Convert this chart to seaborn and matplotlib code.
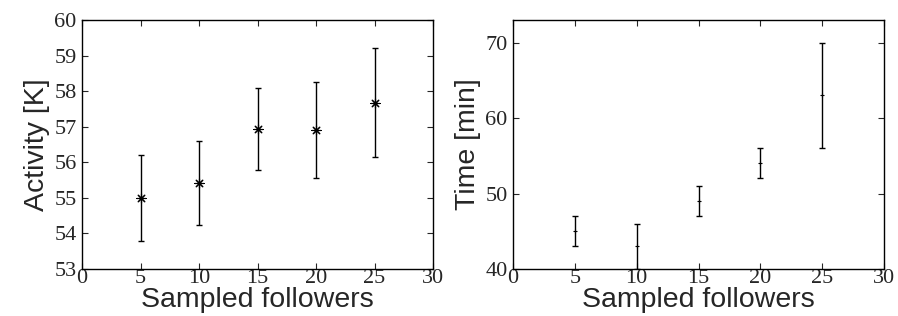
import matplotlib
matplotlib.use("Agg")
import matplotlib.pyplot as plt
import pandas as pd
import seaborn as sns

# data
followers = [5, 10, 15, 20, 25]
activity = [55.0, 55.43, 56.93, 56.9, 57.68]
activity_err = [1.2, 1.18, 1.15, 1.35, 1.53]
time_min = [45, 43, 49, 54, 63]
time_lo = [43, 40, 47, 52, 56]
time_hi = [47, 46, 51, 56, 70]

sns.set_style("ticks")
plt.rcParams['font.family'] = ['Liberation Serif', 'DejaVu Serif']

df_act = pd.DataFrame({'followers': followers, 'activity': activity, 'err': activity_err})
df_time = pd.DataFrame({'followers': followers, 'time': time_min, 'lo': time_lo, 'hi': time_hi})

fig = plt.figure(figsize=(8.98, 3.16), dpi=100)
ax1 = fig.add_axes([82 / 898, 1 - 269 / 316, 351 / 898, 249 / 316])
ax2 = fig.add_axes([513 / 898, 1 - 269 / 316, 371 / 898, 249 / 316])

label_font = dict(family='Liberation Sans', fontsize=20.5)


def style_axes(ax):
    for s in ax.spines.values():
        s.set_linewidth(1.0)
        s.set_color('black')
    ax.tick_params(direction='in', top=True, right=True, length=4, width=0.8,
                   labelsize=16, pad=0)
    ax.tick_params(axis='y', pad=4)
    ax.set_xlim(0, 30)
    ax.set_xticks([0, 5, 10, 15, 20, 25, 30])
    ax.set_xlabel('Sampled followers', labelpad=-1, **label_font)


# Left panel: activity
ax1.errorbar(df_act['followers'], df_act['activity'], yerr=df_act['err'],
             fmt='none', ecolor='black', elinewidth=1, capsize=2.5, capthick=1)
sns.scatterplot(data=df_act, x='followers', y='activity', ax=ax1,
                marker=(8, 2, 0), s=45, color='black', linewidth=0.8, zorder=3)
ax1.set_ylim(53, 60)
ax1.set_yticks(range(53, 61))
ax1.set_ylabel('Activity [K]', labelpad=3, **label_font)
style_axes(ax1)

# Right panel: time
ax2.errorbar(df_time['followers'], df_time['time'],
             yerr=[df_time['time'] - df_time['lo'], df_time['hi'] - df_time['time']],
             fmt='none', ecolor='black', elinewidth=1, capsize=2.5, capthick=1)
sns.scatterplot(data=df_time, x='followers', y='time', ax=ax2,
                marker='+', s=12, color='black', linewidth=0.8, zorder=3)
ax2.set_ylim(40, 73)
ax2.set_yticks([40, 50, 60, 70])
ax2.set_ylabel('Time [min]', labelpad=3, **label_font)
style_axes(ax2)

fig.savefig('out.png', dpi=100)
